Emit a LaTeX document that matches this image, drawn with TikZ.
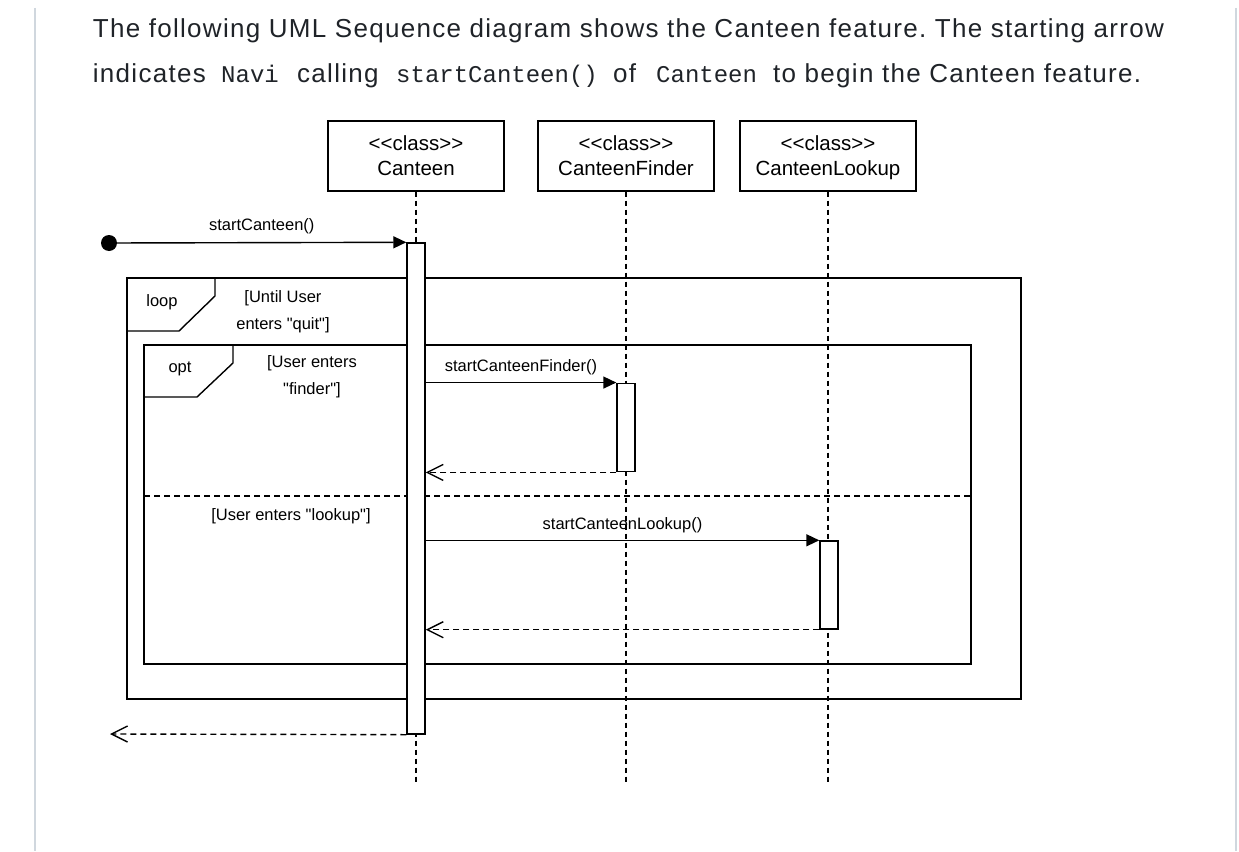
\documentclass[tikz,border=0pt]{standalone}
\usepackage{fontspec}
\setmainfont{Liberation Sans}[Ligatures=TeXOff]
\newfontfamily\paratext[LetterSpace=5]{Liberation Sans}
\newfontfamily\codetext{Liberation Mono}
\usetikzlibrary{arrows.meta, positioning}
\frenchspacing

\definecolor{inkgray}{HTML}{1F2328}
\definecolor{rulegray}{HTML}{D0D7DE}

\newcommand{\topstrut}{\rule{0pt}{21.5pt}}

\tikzset{
  para/.style={inner sep=0pt, anchor=base west, text=inkgray, font=\paratext\fontsize{26}{30}\selectfont},
  code/.style={inner sep=0pt, anchor=base west, text=inkgray, font=\codetext\fontsize{24}{29}\selectfont},
  class box/.style={draw, line width=1.4pt, minimum width=176pt, minimum height=70pt, inner sep=0pt,
    align=center, font=\fontsize{20.5}{25}\selectfont},
  act bar/.style={draw, fill=white, line width=1.4pt, minimum width=18pt, inner sep=0pt},
  lifeline/.style={line width=1.2pt, dash pattern=on 5pt off 4pt},
  frame/.style={line width=1.4pt},
  call/.style={line width=1.4pt, -{Triangle[length=13pt,width=12pt]}},
  reply/.style={line width=1.4pt, dash pattern=on 6pt off 4pt, -{Straight Barb[length=16pt,width=16pt]}},
  msg label/.style={inner sep=0pt, font=\fontsize{16.5}{20}\selectfont},
  guard/.style={inner sep=0pt, align=center, font=\fontsize{16.5}{27}\selectfont}
}

\begin{document}
\begin{tikzpicture}[x=1pt, y=-1pt]
  \useasboundingbox (0,0) rectangle (1239,851);

  % page rules
  \draw[rulegray, line width=2pt] (35,8) -- (35,851);
  \draw[rulegray, line width=2pt] (1236,8) -- (1236,851);

  % intro text
  \node[para] (intro1) at (92.7,37.3) {The following UML Sequence diagram shows the Canteen feature. The starting arrow};
  \node[para] (intro2) at (92.7,82.3) {indicates};
  \node[code] (navi code) at (221,82.3) {Navi};
  \node[para] (intro3) at (297,82.3) {calling};
  \node[code] (start code) at (396,82.3) {startCanteen()};
  \node[para] (intro4) at (613,82.3) {of};
  \node[code] (canteen code) at (656,82.3) {Canteen};
  \node[para] (intro5) at (773,82.3) {to begin the Canteen feature.};

  % frames
  \draw[frame] (127,278) rectangle (1021,699);
  \draw[frame] (127,331) -- (179,331) -- (215,296) -- (215,278);
  \draw[frame] (144,345) rectangle (971,664);
  \draw[frame] (144,397) -- (197,397) -- (233,363) -- (233,345);
  \draw[frame, dash pattern=on 6pt off 4pt] (144,496) -- (971,496);

  \node[msg label] (loop tag) at (162,302) {loop};
  \node[guard] (loop guard) at (283,311.5) {[Until User\\enters "quit"]};
  \node[msg label] (opt tag) at (180,369) {opt};
  \node[guard] (finder guard) at (312,376.5) {[User enters\\"finder"]};
  \node[msg label] (lookup guard) at (291,516) {[User enters "lookup"]};

  % classes and lifelines
  \node[class box] (canteen) at (416,156) {\topstrut <<class>>\\\strut Canteen};
  \node[class box] (finder) at (626,156) {\topstrut <<class>>\\\strut CanteenFinder};
  \node[class box] (lookup) at (828,156) {\topstrut <<class>>\\\strut CanteenLookup};

  \coordinate (canteen end) at (416,784);
  \coordinate (finder end) at (626,785);
  \coordinate (lookup end) at (828,785);
  \draw[lifeline] (canteen.south) -- (canteen end);
  \draw[lifeline] (finder.south) -- (finder end);
  \draw[lifeline] (lookup.south) -- (lookup end);

  % activations
  \node[act bar, minimum height=491pt] (actC) at (416,488.5) {};
  \node[act bar, minimum height=88.5pt] (actF) at (626,427.5) {};
  \node[act bar, minimum height=88pt] (actL) at (829,585) {};

  % messages
  \node[circle, fill, inner sep=0pt, minimum size=16pt] (navi) at (109,243) {};
  \coordinate (caller) at (110,734);

  \draw[call] (navi) -- node[msg label, above=8pt] {startCanteen()} (actC.north west);
  \draw[call] (actC.east |- actF.north) -- node[msg label, above=7pt] {startCanteenFinder()} (actF.north west);
  \draw[reply] (actF.south west) -- (actC.east |- actF.south);
  \draw[call] (actC.east |- actL.north) -- node[msg label, above=7pt] {startCanteenLookup()} (actL.north west);
  \draw[reply] (actL.south west) -- (actC.east |- actL.south);
  \draw[reply] (actC.south west) -- (caller);
\end{tikzpicture}
\end{document}
